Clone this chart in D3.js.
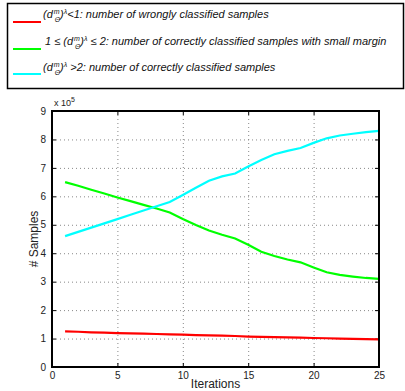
<!DOCTYPE html>
<html><head><meta charset="utf-8">
<script src="https://cdn.jsdelivr.net/npm/d3@7"></script>
<style>body{margin:0;background:#fff}svg{display:block}text{font-family:"Liberation Sans",Arial,sans-serif}</style>
</head><body><svg id="c" width="405" height="391"></svg>
<script>
const iterations = d3.range(1, 26);
const wrong = [1.25,1.24,1.22,1.21,1.19,1.18,1.17,1.16,1.15,1.14,1.12,1.11,1.10,1.09,1.07,1.06,1.05,1.04,1.03,1.02,1.01,1.00,0.99,0.98,0.97];
const smallMargin = [6.5,6.37,6.23,6.1,5.96,5.83,5.7,5.57,5.43,5.2,4.99,4.8,4.65,4.52,4.3,4.05,3.9,3.78,3.68,3.5,3.33,3.24,3.18,3.13,3.1];
const correct = [4.6,4.75,4.9,5.05,5.2,5.35,5.5,5.65,5.8,6.05,6.3,6.55,6.7,6.8,7.05,7.28,7.48,7.6,7.7,7.88,8.04,8.14,8.2,8.26,8.3];
const xTicks = [0,5,10,15,20,25];
const yTicks = [0,1,2,3,4,5,6,7,8,9];
const seriesColors = ["#ff0000","#00ff00","#00ffff"];
const legendRest = [
  "<1: number of wrongly classified samples",
  " ≤ 2: number of correctly classified samples with small margin",
  " >2: number of correctly classified samples"
];

const svg = d3.select("#c");
const L=52, R=379, T=111, B=367;
const x = d3.scaleLinear().domain([0,25]).range([L,R]);
const y = d3.scaleLinear().domain([0,9]).range([B,T]);

// grid
const g = svg.append("g");
g.selectAll(".gx").data(xTicks.slice(1,-1)).enter().append("line")
  .attr("x1",d=>x(d)+0.5).attr("x2",d=>x(d)+0.5).attr("y1",T).attr("y2",B)
  .attr("stroke","#888").attr("stroke-width",1).attr("stroke-dasharray","1,3");
g.selectAll(".gy").data(yTicks.slice(1,-1)).enter().append("line")
  .attr("y1",d=>y(d)+0.5).attr("y2",d=>y(d)+0.5).attr("x1",L).attr("x2",R)
  .attr("stroke","#888").attr("stroke-width",1).attr("stroke-dasharray","1,3");

// axes
svg.append("g").attr("transform",`translate(0,${B})`)
  .call(d3.axisBottom(x).tickValues(xTicks).tickSize(-4).tickPadding(5));
svg.append("g").attr("transform",`translate(${L},0)`)
  .call(d3.axisLeft(y).tickValues(yTicks).tickSize(-4).tickPadding(6));
svg.append("g").attr("transform",`translate(0,${T})`)
  .call(d3.axisTop(x).tickValues(xTicks).tickSize(-4).tickFormat(""));
svg.append("g").attr("transform",`translate(${R},0)`)
  .call(d3.axisRight(y).tickValues(yTicks).tickSize(-4).tickFormat(""));
svg.selectAll(".domain").remove();
svg.selectAll(".tick line").attr("stroke","#000");
svg.selectAll(".tick text").attr("font-size",10).attr("fill","#222").attr("font-family","Liberation Sans, Arial, sans-serif");

// lines
const line = d3.line().x((d,i)=>x(iterations[i])).y(d=>y(d));
[wrong, smallMargin, correct].forEach((s,i)=>{
  svg.append("path").datum(s).attr("d",line).attr("fill","none")
    .attr("stroke",seriesColors[i]).attr("stroke-width",2.2);
});

// frame
svg.append("rect").attr("x",L).attr("y",T).attr("width",R-L).attr("height",B-T)
  .attr("fill","none").attr("stroke","#000").attr("stroke-width",2);

// exponent label
const ex = svg.append("text").attr("x",L+2).attr("y",T-5).attr("font-size",9).attr("fill","#222");
ex.append("tspan").text("x 10");
ex.append("tspan").attr("dy",-4).attr("font-size",7).text("5");

// axis labels
svg.append("text").attr("x",(L+R)/2).attr("y",388).attr("text-anchor","middle")
  .attr("font-size",12).attr("fill","#222").text("Iterations");
svg.append("text").attr("transform","translate(38,239) rotate(-90)").attr("text-anchor","middle")
  .attr("font-size",12).attr("fill","#222").text("# Samples");

// legend
svg.append("rect").attr("x",7.5).attr("y",3.5).attr("width",396).attr("height",85)
  .attr("fill","#fff").attr("stroke","#000").attr("stroke-width",1.5);
const ly = [22, 49, 74];
const ty = [18, 45, 71];
ly.forEach((yy,i)=>{
  svg.append("line").attr("x1",13).attr("x2",41).attr("y1",yy).attr("y2",yy)
    .attr("stroke",seriesColors[i]).attr("stroke-width",2);
  const t = svg.append("text").attr("x",i===1?45:43).attr("y",ty[i]).attr("font-size",11)
    .attr("font-style","italic").attr("fill","#111");
  if(i===1) t.append("tspan").text("1 ≤ ");
  t.append("tspan").text("(d");
  t.append("tspan").attr("dx",1).attr("dy",-4).attr("font-size",7).text("m");
  t.append("tspan").attr("dx",-5).attr("dy",8).attr("font-size",7).text("Θ");
  t.append("tspan").attr("dy",-4).text(")");
  t.append("tspan").attr("dy",-4).attr("font-size",7).text("λ");
  t.append("tspan").attr("dy",4).text(legendRest[i]);
});
</script></body></html>
